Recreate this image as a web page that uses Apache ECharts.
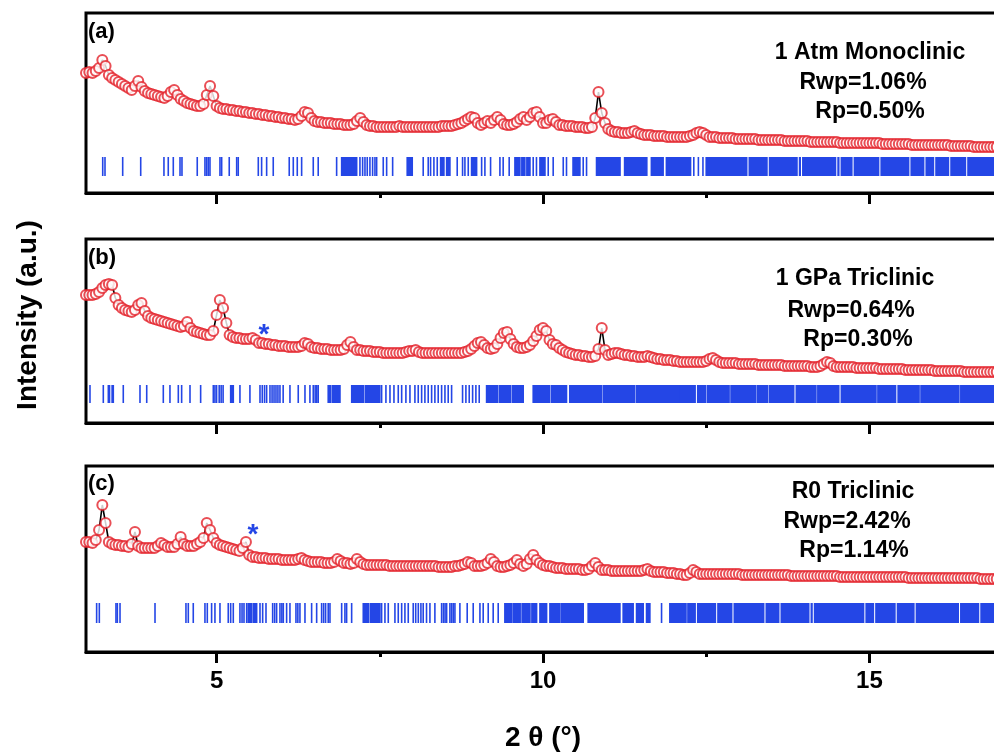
<!DOCTYPE html>
<html>
<head>
<meta charset="utf-8">
<script src="https://cdn.jsdelivr.net/npm/echarts@6/dist/echarts.min.js"></script>
<style>html,body{margin:0;padding:0;background:#fff}#chart{width:994px;height:754px}</style>
</head>
<body>
<div id="chart"></div>
<script>
// ---- sampling of the 2-theta scale (degrees) ----
const X_START = 3.0;
const X_STEP = 0.05;
const X_MIN = 3, X_MAX = 17;
const MAJOR_TICKS = [5, 10, 15];
const MINOR_TICKS = [7.5, 12.5];

// ---- observed intensities (a.u.), one value every 0.05 deg from 3.00 to 17.00 ----
const obsA = [
120,121,120,122,125,133,127,118,115,113,
111,109,107,105,103,107,112,106,102,100,
99,98,97,96,95,97,101,103,98,94,
92,90,89,88,87,87,89,98,107,97,
87,85,84,84,83,83,82,82,81,81,
80,80,79,79,78,78,77,77,76,76,
75,75,74,74,73,74,77,81,80,75,
72,71,71,70,70,70,69,69,69,68,
68,68,69,72,75,71,68,67,67,66,
66,66,66,66,66,66,67,66,66,66,
66,66,66,66,66,66,66,66,66,67,
67,67,67,68,69,70,72,74,76,75,
70,68,70,72,70,73,76,73,69,68,
68,69,71,74,76,73,76,80,81,76,
70,70,73,74,71,68,68,67,67,67,
66,66,66,65,65,66,75,101,80,70,
64,62,61,61,60,60,60,61,62,60,
59,58,58,58,57,57,57,57,56,56,
56,56,56,56,56,57,58,60,61,60,
58,56,56,56,55,55,55,55,55,54,
54,54,54,54,54,54,53,53,53,53,
53,53,53,53,52,52,52,52,52,52,
52,52,51,51,51,51,51,51,51,51,
51,50,50,50,50,50,50,50,50,50,
50,50,50,50,49,49,49,49,49,49,
49,49,49,48,48,48,48,48,48,48,
48,48,48,48,48,47,47,47,47,47,
47,47,46,46,46,46,46,46,46,46,
46];
const obsB = [
128,128,128,129,131,135,138,139,138,125,
118,115,113,112,111,113,118,120,112,107,
105,104,103,102,101,100,99,98,97,96,
97,101,95,92,91,90,89,88,88,92,
108,123,115,100,88,86,85,85,84,84,
84,85,83,80,80,79,79,78,78,77,
77,77,76,76,76,76,77,80,79,76,
75,75,74,74,74,73,73,73,73,74,
78,81,76,73,73,72,72,72,71,71,
71,70,70,70,70,70,70,70,71,72,
72,73,71,70,70,70,70,70,70,70,
70,70,70,70,70,70,71,72,74,77,
80,81,78,75,74,75,79,85,90,91,
84,79,76,75,75,76,78,82,87,93,
95,92,83,79,78,75,73,71,70,69,
68,68,67,67,66,66,67,74,95,73,
68,69,70,70,69,68,68,67,67,66,
66,66,67,66,65,64,64,63,63,63,
62,62,61,61,61,61,61,61,61,61,
62,64,65,63,61,60,60,60,60,60,
59,59,59,59,59,59,58,58,58,58,
58,58,58,58,57,57,57,57,57,57,
57,57,56,56,56,57,59,61,60,57,
56,56,56,56,56,56,55,55,55,55,
55,55,55,54,54,54,54,54,54,54,
54,53,53,53,53,53,53,53,53,53,
52,52,52,52,52,52,52,52,52,51,
51,51,51,51,51,51,51,51,51,51,
51];
const obsC = [
110,110,109,112,122,147,129,110,108,107,
107,106,106,105,108,120,106,104,104,104,
104,104,106,109,107,105,105,105,108,115,
108,106,106,106,108,110,114,129,122,114,
109,107,106,105,104,103,102,101,104,110,
97,95,95,94,94,94,93,93,93,93,
92,92,92,92,92,93,94,92,91,90,
90,90,90,89,89,89,90,93,91,89,
89,88,89,93,90,88,87,87,87,87,
87,87,87,86,86,86,86,86,86,86,
86,86,86,86,86,86,86,86,85,85,
85,85,85,86,86,87,88,90,89,86,
86,86,87,89,93,90,86,85,85,86,
87,89,92,88,86,88,93,97,92,89,
87,86,86,85,84,84,84,83,83,83,
83,83,82,82,83,86,89,85,82,82,
82,81,81,81,81,81,81,81,81,81,
81,82,83,81,80,80,80,80,79,79,
79,78,78,77,77,79,82,80,78,78,
78,78,78,78,78,78,78,78,78,78,
78,77,77,77,77,77,77,77,77,77,
77,77,77,77,77,77,76,76,76,76,
76,76,76,76,76,76,76,76,76,76,
76,75,75,75,75,75,75,75,75,75,
75,75,75,75,75,75,75,75,75,75,
75,75,74,74,74,74,74,74,74,74,
74,74,74,74,74,74,74,74,74,74,
74,74,74,74,73,73,73,73,73,73,
73];

// ---- Bragg reflection positions (deg); [start,end] = run of unresolved reflections ----
const refA = [3.256,3.291,3.562,3.838,4.194,4.26,4.337,4.44,4.47,4.704,4.822,4.848,4.873,4.899,5.052,5.078,5.194,5.308,5.332,5.639,5.69,5.767,5.868,6.113,6.175,6.236,6.303,6.481,6.557,6.839,[6.916,7.146],7.196,7.237,7.273,7.308,7.349,7.39,7.426,7.452,
7.553,7.605,7.697,[7.92,7.997],8.165,8.242,8.278,8.329,8.38,[8.432,8.482],[8.524,8.574],8.686,8.768,8.804,8.855,[8.906,8.983],9.06,9.11,9.197,9.34,9.39,9.482,[9.57,9.646],[9.676,9.722],[9.753,9.80],9.85,9.9,[9.953,10.03],10.08,10.156,10.31,10.36,[10.46,10.565],10.616,10.667,[10.82,11.18],[11.25,11.59],[11.66,11.84],[11.89,12.26],12.31,12.38,12.45,[12.5,13.12],[13.16,13.43],[13.47,13.89],[13.93,13.94],[13.98,14.48],[14.52,14.53],[14.57,14.73],[14.77,15.14],[15.18,15.60],[15.64,15.83],[15.87,15.98],[16.02,16.21],[16.25,16.47],[16.51,17.0]];
const refB = [3.061,3.265,[3.342,3.36],[3.40,3.418],3.571,3.827,3.93,4.184,4.286,4.414,4.465,4.593,4.756,4.95,4.975,5.0,5.04,5.07,5.10,[5.216,5.256],5.358,5.511,5.665,5.70,5.735,5.767,5.818,5.85,5.88,5.91,5.94,5.971,6.02,6.124,6.251,6.354,6.43,6.481,6.51,6.535,6.557,[6.71,6.75],[6.78,6.89],[7.07,7.25],[7.28,7.50],
7.528,7.594,7.656,7.717,7.783,7.835,7.9,7.962,8.038,8.089,8.141,8.191,8.242,8.294,8.344,8.395,8.447,8.498,8.548,8.6,8.768,8.819,8.87,8.922,8.972,9.023,[9.136,9.30],[9.33,9.50],[9.53,9.697],[9.85,10.10],[10.13,10.36],[10.41,10.90],[10.93,11.40],[11.43,12.1],
[12.1,12.33],[12.37,12.49],[12.52,12.85],[12.88,13.26],[13.29,13.44],[13.47,13.84],[13.88,14.18],[14.21,14.53],[14.57,15.10],[15.13,15.40],[15.44,15.76],[15.79,16.37],[16.40,17.0]];
const refC = [3.163,3.204,3.459,3.48,3.521,4.057,4.531,4.567,4.643,4.822,4.858,4.924,4.975,5.052,5.179,5.216,5.256,5.358,5.39,5.42,5.461,[5.485,5.53],[5.56,5.614],5.665,5.706,5.757,5.859,5.89,5.92,5.971,6.0,6.022,6.073,6.124,6.216,6.245,6.277,6.354,6.456,6.533,6.609,6.64,6.67,6.71,6.737,6.916,6.966,6.992,7.069,[7.247,7.33],[7.36,7.502],
7.528,7.579,7.63,7.732,7.783,7.835,7.885,7.936,8.012,8.05,8.09,8.13,8.165,8.216,8.268,8.344,8.447,8.475,8.50,8.524,8.574,8.60,8.625,8.651,8.727,8.839,8.931,9.034,9.084,9.161,9.237,9.314,[9.416,9.519],[9.544,9.65],[9.68,9.80],[9.83,9.902],[9.953,10.055],[10.106,10.259],[10.285,10.616],[10.692,11.178],[11.228,11.381],[11.433,11.535],[11.586,11.637],11.816,[11.943,12.19],
[12.22,12.33],[12.37,12.64],[12.68,12.89],[12.93,13.38],[13.42,13.61],[13.65,14.07],[14.11,14.12],[14.16,14.91],[14.95,15.06],[15.10,15.39],[15.43,15.68],[15.72,16.36],[16.40,16.67],[16.71,17.0]];

// ---- impurity markers (*) : [2theta, intensity] ----
const starB = [[5.71, 93]];
const starC = [[5.54, 122]];

// ---- panel texts ----
const panelTags = ['(a)', '(b)', '(c)'];
const phaseNames = ['1 Atm Monoclinic', '1 GPa Triclinic', 'R0 Triclinic'];
const rwpTexts = ['Rwp=1.06%', 'Rwp=0.64%', 'Rwp=2.42%'];
const rpTexts = ['Rp=0.50%', 'Rp=0.30%', 'Rp=1.14%'];
const xTitle = '2 θ (°)';
const yTitle = 'Intensity (a.u.)';

// ---------------- layout / style ----------------
const FONT = '"Liberation Sans", Arial, Helvetica, sans-serif';
const RED = '#e3222a';
const BLUE = '#2446e6';
const grids = [
  {top: 13, height: 180, tickRow: [17, 36]},
  {top: 239, height: 184, tickRow: [20, 38]},
  {top: 466, height: 186, tickRow: [29, 49]}
];
const obsAll = [obsA, obsB, obsC];
const refAll = [refA, refB, refC];
const starsAll = [[], starB, starC];

function toPairs(arr) {
  return arr.map((v, i) => [+(X_START + i * X_STEP).toFixed(2), v]);
}

const option = {
  animation: false,
  backgroundColor: '#fff',
  grid: grids.map(g => ({
    left: 86, top: g.top, width: 914, height: g.height,
    show: true, borderColor: '#000', borderWidth: 3,
    containLabel: false, outerBoundsMode: 'none'
  })),
  xAxis: [],
  yAxis: [],
  series: [],
  graphic: []
};

grids.forEach((g, k) => {
  const isBottom = k === 2;
  option.xAxis.push({
    type: 'value', gridIndex: k, min: X_MIN, max: X_MAX, position: 'bottom',
    axisLine: {show: true, onZero: false, lineStyle: {color: '#000', width: 3}},
    axisTick: {show: true, customValues: MAJOR_TICKS, length: 11, lineStyle: {color: '#000', width: 3}},
    axisLabel: {show: isBottom, customValues: MAJOR_TICKS, margin: 17, color: '#000',
      fontSize: 24, fontWeight: 'bold', fontFamily: FONT},
    splitLine: {show: false},
    name: isBottom ? xTitle : '', nameLocation: 'middle', nameGap: 72,
    nameTextStyle: {fontSize: 28, fontWeight: 'bold', color: '#000', fontFamily: FONT}
  });
  option.xAxis.push({
    type: 'value', gridIndex: k, min: X_MIN, max: X_MAX, position: 'bottom',
    axisLine: {show: false},
    axisTick: {show: true, customValues: MINOR_TICKS, length: 5, lineStyle: {color: '#000', width: 3}},
    axisLabel: {show: false}, splitLine: {show: false}
  });
  option.yAxis.push({
    type: 'value', gridIndex: k, min: 0, max: g.height, show: false
  });

  const pts = toPairs(obsAll[k]);
  // calculated profile (drawn beneath the observed circles)
  option.series.push({
    type: 'line', xAxisIndex: 2 * k, yAxisIndex: k, data: pts,
    showSymbol: false, symbol: 'none', lineStyle: {color: '#000', width: 1.6}, z: 2, silent: true
  });
  // observed points
  option.series.push({
    type: 'scatter', xAxisIndex: 2 * k, yAxisIndex: k, data: pts,
    symbol: 'circle', symbolSize: 10,
    itemStyle: {color: '#fff', borderColor: RED, borderWidth: 2}, z: 3, silent: true
  });
  // Bragg reflection ticks
  const row = g.tickRow;
  const refData = refAll[k].map(r => Array.isArray(r) ? [r[0], r[1], row[0], row[1]] : [r, r, row[0], row[1]]);
  option.series.push({
    type: 'custom', xAxisIndex: 2 * k, yAxisIndex: k, data: refData,
    encode: {x: [0, 1], y: [2, 3]}, z: 2, silent: true,
    renderItem: function (params, api) {
      const p0 = api.coord([api.value(0), api.value(2)]);
      const p1 = api.coord([api.value(1), api.value(3)]);
      return {
        type: 'rect',
        shape: {x: p0[0] - 0.8, y: p1[1], width: (p1[0] - p0[0]) + 1.6, height: p0[1] - p1[1]},
        style: {fill: BLUE}
      };
    }
  });
  // impurity stars
  if (starsAll[k].length) {
    option.series.push({
      type: 'custom', xAxisIndex: 2 * k, yAxisIndex: k, data: starsAll[k],
      encode: {x: 0, y: 1}, z: 4, silent: true,
      renderItem: function (params, api) {
        const p = api.coord([api.value(0), api.value(1)]);
        return {
          type: 'text', x: p[0] + 1, y: p[1] + 5,
          style: {text: '*', fill: BLUE, font: 'bold 28px ' + FONT,
            align: 'center', verticalAlign: 'middle', textAlign: 'center', textVerticalAlign: 'middle'}
        };
      }
    });
  }
});

function txt(text, x, y, size, align) {
  return {
    type: 'text', x: x, y: y, silent: true,
    style: {text: text, fill: '#000', font: 'bold ' + size + 'px ' + FONT,
      align: align || 'center', verticalAlign: 'middle',
      textAlign: align || 'center', textVerticalAlign: 'middle'}
  };
}
const tagPos = [[88, 32], [88, 258], [88, 484]];
const annPos = [
  [[870, 53], [863, 83], [870, 112]],
  [[855, 279], [851, 311], [858, 340]],
  [[853, 492], [847, 522], [854, 551]]
];
for (let k = 0; k < 3; k++) {
  option.graphic.push(txt(panelTags[k], tagPos[k][0], tagPos[k][1], 22, 'left'));
  option.graphic.push(txt(phaseNames[k], annPos[k][0][0], annPos[k][0][1], 23));
  option.graphic.push(txt(rwpTexts[k], annPos[k][1][0], annPos[k][1][1], 23));
  option.graphic.push(txt(rpTexts[k], annPos[k][2][0], annPos[k][2][1], 23));
}
const yt = txt(yTitle, 28, 315, 28);
yt.rotation = Math.PI / 2;
option.graphic.push(yt);

const chart = echarts.init(document.getElementById('chart'), null, {renderer: 'canvas'});
chart.setOption(option);
</script>
</body>
</html>
